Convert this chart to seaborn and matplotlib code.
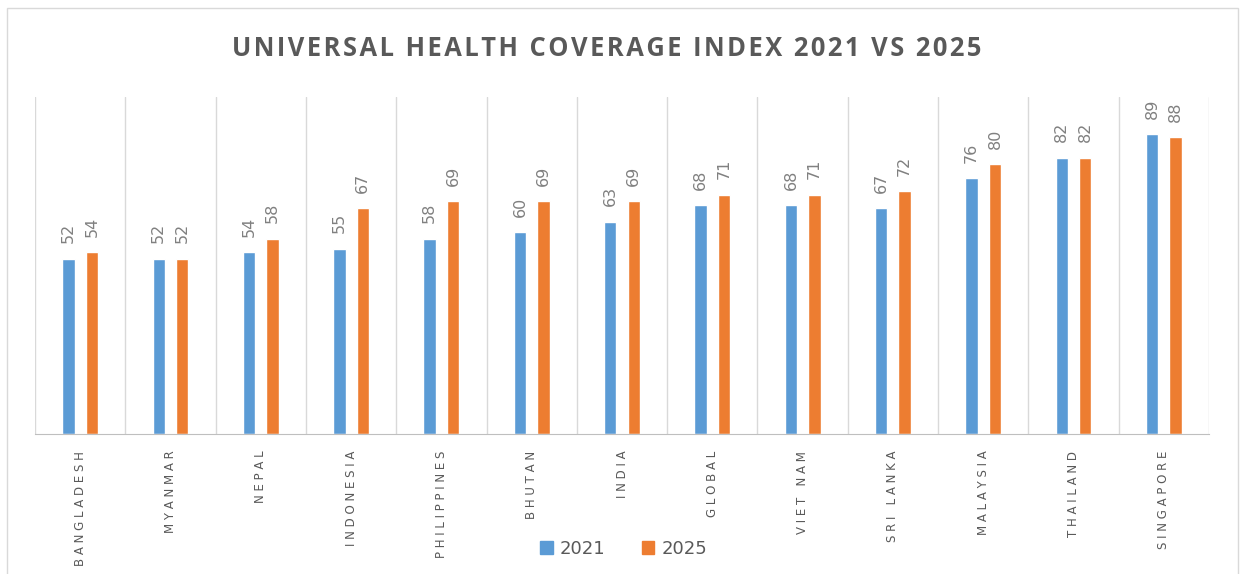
import numpy as np
import pandas as pd
import matplotlib.pyplot as plt
import seaborn as sns
from matplotlib.patches import Rectangle

# data
countries = ["BANGLADESH", "MYANMAR", "NEPAL", "INDONESIA", "PHILIPPINES", "BHUTAN", "INDIA",
             "GLOBAL", "VIET NAM", "SRI LANKA", "MALAYSIA", "THAILAND", "SINGAPORE"]
uhc_2021 = [52, 52, 54, 55, 58, 60, 63, 68, 68, 67, 76, 82, 89]
uhc_2025 = [54, 52, 58, 67, 69, 69, 69, 71, 71, 72, 80, 82, 88]
years = ["2021", "2025"]
colors = ["#5B9BD5", "#ED7D31"]
title = "UNIVERSAL HEALTH COVERAGE INDEX 2021 VS 2025"

df = pd.DataFrame({
    "Country": countries * 2,
    "Year": [years[0]] * len(countries) + [years[1]] * len(countries),
    "Index": uhc_2021 + uhc_2025,
})

sns.set_style("white")
fig = plt.figure(figsize=(12.46, 5.74), dpi=100)
ax = fig.add_axes([0.0281, 0.2439, 0.9422, 0.5871])

sns.barplot(data=df, x="Country", y="Index", hue="Year", palette=colors, saturation=1,
            width=0.52, gap=0.47, errorbar=None, legend=False, ax=ax)

# value labels above the bars, rotated
for cont in ax.containers:
    ax.bar_label(cont, rotation=90, padding=11, fontsize=11.5, color="#808080")

ax.set_ylim(0, 100)
ax.set_xlim(-0.5, len(countries) - 0.5)
ax.set_yticks([])
for x in np.arange(-0.5, len(countries)):
    ax.axvline(x, color="#d9d9d9", lw=1, zorder=0)

for s in ["top", "left", "right"]:
    ax.spines[s].set_visible(False)
ax.spines["bottom"].set_color("#bfbfbf")

ax.set_xticks(range(len(countries)))
ax.set_xticklabels([" ".join(c) for c in countries], rotation=90, fontsize=8.5, color="#595959")
ax.tick_params(axis="x", length=0, pad=12)
ax.set_xlabel("")
ax.set_ylabel("")

# legend at the bottom
handles = [Rectangle((0, 0), 1, 1, color=c) for c in colors]
fig.legend(handles, years, loc="center", bbox_to_anchor=(0.5005, 0.0436), ncol=2, frameon=False,
           fontsize=13, labelcolor="#595959", handlelength=0.7, handleheight=0.7,
           columnspacing=2.0, handletextpad=0.4)

# letter-spaced title
fig.text(0.487, 0.916, "\u200a".join(title), ha="center", va="center",
         fontsize=18.4, fontweight="bold", color="#595959", family=["Open Sans", "DejaVu Sans"])

# outer chart frame
fig.add_artist(Rectangle((7 / 1246, -0.01), (1238 - 7) / 1246, 1.01 - 8 / 574,
                         transform=fig.transFigure, fill=False, edgecolor="#d9d9d9", lw=1))

fig.savefig("out.png", dpi=100)
